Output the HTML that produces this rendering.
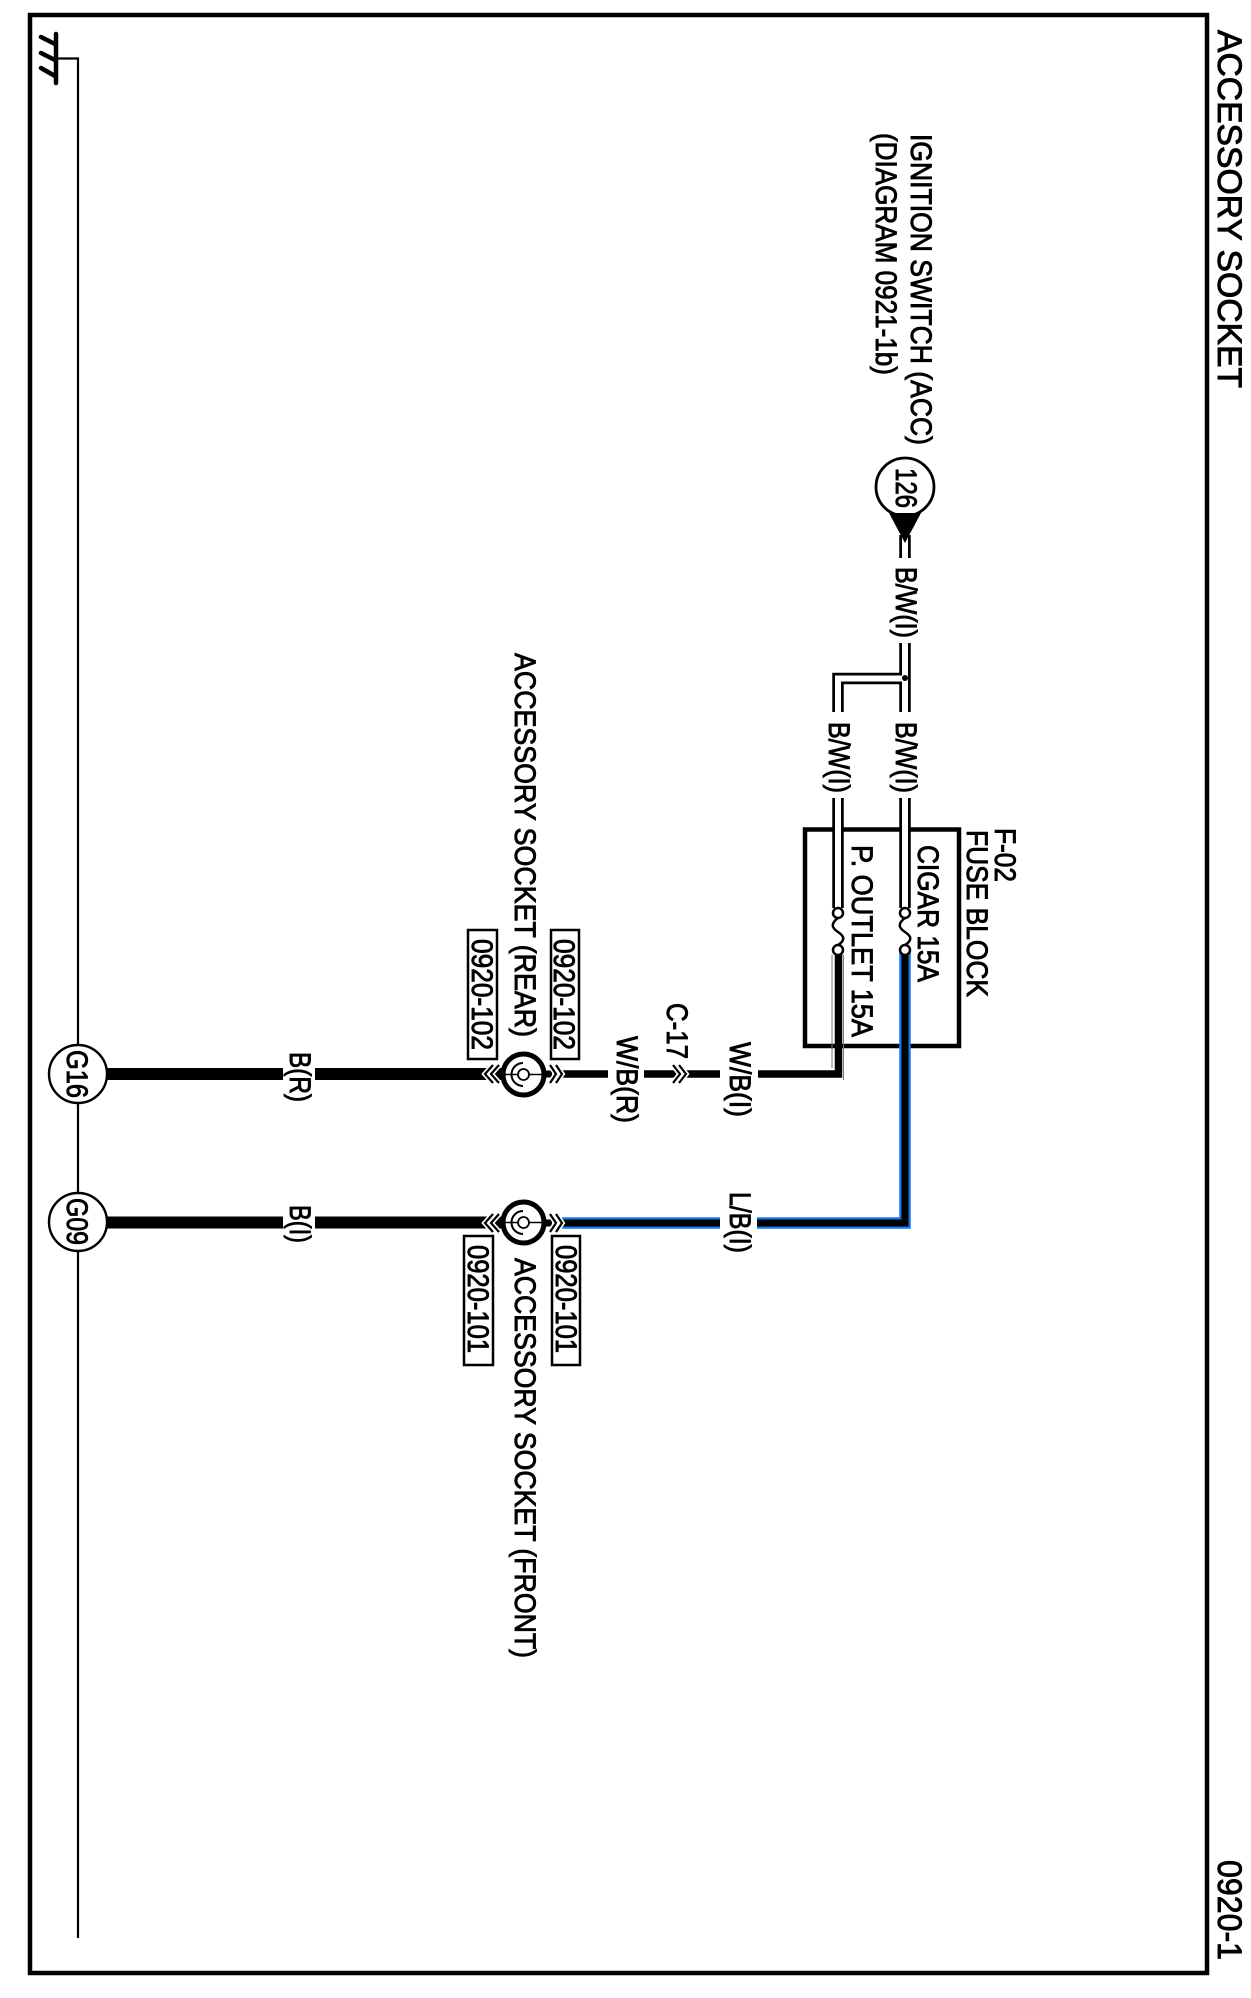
<!DOCTYPE html>
<html>
<head>
<meta charset="utf-8">
<style>
html,body{margin:0;padding:0;background:#fff;}
svg{display:block;}
text{font-family:"Liberation Sans",sans-serif;fill:#000;stroke:#000;stroke-width:.9;font-size:30px;}
</style>
</head>
<body>
<svg width="1251" height="1998" viewBox="0 0 1251 1998" xmlns="http://www.w3.org/2000/svg">
<rect width="1251" height="1998" fill="#fff"/>
<rect x="30" y="15" width="1177" height="1958" fill="none" stroke="#000" stroke-width="4.5"/>

<!-- ground -->
<g stroke="#000" fill="none" stroke-linecap="round">
<path d="M56,34V83" stroke-width="4.5"/>
<path d="M41,37L55,44M41,53L55,60M41,68L55,76" stroke-width="4.5"/>
<path d="M56,58.5H78V1938" stroke-width="2.2" stroke-linecap="butt"/>
</g>
<circle cx="78" cy="1074" r="29" fill="#fff" stroke="#000" stroke-width="2.4"/>
<circle cx="78" cy="1222" r="29" fill="#fff" stroke="#000" stroke-width="2.4"/>

<!-- fuse box -->
<rect x="805" y="829.5" width="154" height="216.5" fill="none" stroke="#000" stroke-width="4.5"/>

<!-- double wires -->
<g fill="none" stroke="#000" stroke-width="11.5">
<path d="M905,535V558M905,643V712M905,798V908M838,798V908M905,678.5H838V712"/>
</g>
<g fill="none" stroke="#fff" stroke-width="6">
<path d="M905,535V558M905,643V712M905,798V908M838,798V908M905,678.5H838V712"/>
</g>
<circle cx="905" cy="678" r="3" fill="#000"/>

<!-- 126 -->
<circle cx="905" cy="487" r="29" fill="#fff" stroke="#000" stroke-width="2.8"/>
<path d="M889,513H921L905,543Z" fill="#000"/>

<!-- L/B wire -->
<g fill="none" stroke="#1479ee" stroke-width="11.5">
<path d="M905,953V1223H757M720,1223H562"/>
</g>
<g fill="none" stroke="#000" stroke-width="7">
<path d="M905,953V1223H757M720,1223H562"/>
</g>

<!-- W/B wire -->
<path d="M832,955V1068M843.5,955V1080" fill="none" stroke="#777" stroke-width="1"/>
<g fill="none" stroke="#000" stroke-width="7.5">
<path d="M838.5,953V1074H758M720,1074H644M608,1074H562"/>
</g>

<!-- fuses -->
<g fill="#fff" stroke="#000" stroke-width="2.5">
<circle cx="905" cy="913" r="5"/>
<circle cx="905" cy="950" r="5"/>
<circle cx="838" cy="913" r="5"/>
<circle cx="838" cy="950" r="5"/>
</g>
<g fill="none" stroke="#000" stroke-width="2.5">
<path d="M905,918C897,924 899,928 905,932C911,936 913,940 905,945"/>
<path d="M838,918C830,924 832,928 838,932C844,936 846,940 838,945"/>
</g>

<!-- thick ground wires -->
<path d="M107,1074H283M315,1074H502" fill="none" stroke="#000" stroke-width="12"/>
<path d="M107,1222.5H283M315,1222.5H502" fill="none" stroke="#000" stroke-width="12"/>
<path d="M546,1074H552M546,1223H552" fill="none" stroke="#000" stroke-width="7"/>

<!-- chevrons -->
<g fill="none" stroke="#fff" stroke-width="5.5">
<path d="M493,1065L485,1074L493,1083M499,1065L491,1074L499,1083"/>
<path d="M550,1065L556,1074L550,1083M556,1065L562,1074L556,1083"/>
<path d="M673,1065L680,1074L673,1083M679,1065L686,1074L679,1083"/>
<path d="M493,1214L485,1223L493,1232M499,1214L491,1223L499,1232"/>
<path d="M550,1214L556,1223L550,1232M556,1214L562,1223L556,1232"/>
</g>
<g fill="none" stroke="#000" stroke-width="2.2">
<path d="M493,1065L485,1074L493,1083M499,1065L491,1074L499,1083"/>
<path d="M550,1065L556,1074L550,1083M556,1065L562,1074L556,1083"/>
<path d="M673,1065L680,1074L673,1083M679,1065L686,1074L679,1083"/>
<path d="M493,1214L485,1223L493,1232M499,1214L491,1223L499,1232"/>
<path d="M550,1214L556,1223L550,1232M556,1214L562,1223L556,1232"/>
</g>

<!-- sockets -->
<g fill="#fff" stroke="#000">
<circle cx="523.5" cy="1074.5" r="20.5" stroke-width="5"/>
<path d="M504,1074.5H543" stroke-width="1.5"/>
<path d="M523,1063A11.5,11.5 0 0 0 523,1086" fill="none" stroke-width="2"/>
<circle cx="523.5" cy="1074.5" r="5.5" stroke-width="1.8"/>
<circle cx="523.5" cy="1222.5" r="20.5" stroke-width="5"/>
<path d="M504,1222.5H543" stroke-width="1.5"/>
<path d="M523,1211A11.5,11.5 0 0 0 523,1234" fill="none" stroke-width="2"/>
<circle cx="523.5" cy="1222.5" r="5.5" stroke-width="1.8"/>
</g>

<!-- reference boxes -->
<g fill="none" stroke="#000" stroke-width="2.5">
<rect x="468" y="930" width="29" height="129"/>
<rect x="551" y="930" width="28" height="129"/>
<rect x="464" y="1236" width="29" height="129"/>
<rect x="552" y="1236" width="28" height="129"/>
</g>

<!-- labels -->
<g>
<text transform="translate(1218,30) rotate(90)" textLength="358" lengthAdjust="spacingAndGlyphs" style="font-size:34px">ACCESSORY SOCKET</text>
<text transform="translate(1218,1860) rotate(90)" textLength="100" lengthAdjust="spacingAndGlyphs" style="font-size:34px">0920-1</text>
<text transform="translate(911,134) rotate(90)" textLength="311" lengthAdjust="spacingAndGlyphs">IGNITION SWITCH (ACC)</text>
<text transform="translate(876,133) rotate(90)" textLength="242" lengthAdjust="spacingAndGlyphs">(DIAGRAM 0921-1b)</text>
<text transform="translate(896,468) rotate(90)" textLength="40" lengthAdjust="spacingAndGlyphs">126</text>
<text transform="translate(896,567) rotate(90)" textLength="71" lengthAdjust="spacingAndGlyphs">B/W(I)</text>
<text transform="translate(896,722) rotate(90)" textLength="71" lengthAdjust="spacingAndGlyphs">B/W(I)</text>
<text transform="translate(829,722) rotate(90)" textLength="71" lengthAdjust="spacingAndGlyphs">B/W(I)</text>
<text transform="translate(995,828) rotate(90)" textLength="54" lengthAdjust="spacingAndGlyphs">F-02</text>
<text transform="translate(967,830) rotate(90)" textLength="167" lengthAdjust="spacingAndGlyphs">FUSE BLOCK</text>
<text transform="translate(918,845) rotate(90)" textLength="137" lengthAdjust="spacingAndGlyphs">CIGAR 15A</text>
<text transform="translate(852,845) rotate(90)" textLength="192" lengthAdjust="spacingAndGlyphs">P. OUTLET 15A</text>
<text transform="translate(730,1042) rotate(90)" textLength="75" lengthAdjust="spacingAndGlyphs">W/B(I)</text>
<text transform="translate(730,1192) rotate(90)" textLength="61" lengthAdjust="spacingAndGlyphs">L/B(I)</text>
<text transform="translate(667,1003) rotate(90)" textLength="56" lengthAdjust="spacingAndGlyphs">C-17</text>
<text transform="translate(617,1036) rotate(90)" textLength="87" lengthAdjust="spacingAndGlyphs">W/B(R)</text>
<text transform="translate(515,653) rotate(90)" textLength="384" lengthAdjust="spacingAndGlyphs">ACCESSORY SOCKET (REAR)</text>
<text transform="translate(515,1258) rotate(90)" textLength="400" lengthAdjust="spacingAndGlyphs">ACCESSORY SOCKET (FRONT)</text>
<text transform="translate(472,939) rotate(90)" textLength="111" lengthAdjust="spacingAndGlyphs">0920-102</text>
<text transform="translate(554,939) rotate(90)" textLength="111" lengthAdjust="spacingAndGlyphs">0920-102</text>
<text transform="translate(468,1245) rotate(90)" textLength="108" lengthAdjust="spacingAndGlyphs">0920-101</text>
<text transform="translate(556,1245) rotate(90)" textLength="108" lengthAdjust="spacingAndGlyphs">0920-101</text>
<text transform="translate(290,1052) rotate(90)" textLength="50" lengthAdjust="spacingAndGlyphs">B(R)</text>
<text transform="translate(290,1205) rotate(90)" textLength="38" lengthAdjust="spacingAndGlyphs">B(I)</text>
<text transform="translate(67,1050) rotate(90)" textLength="48" lengthAdjust="spacingAndGlyphs">G16</text>
<text transform="translate(67,1198) rotate(90)" textLength="47" lengthAdjust="spacingAndGlyphs">G09</text>
</g>
</svg>
</body>
</html>
